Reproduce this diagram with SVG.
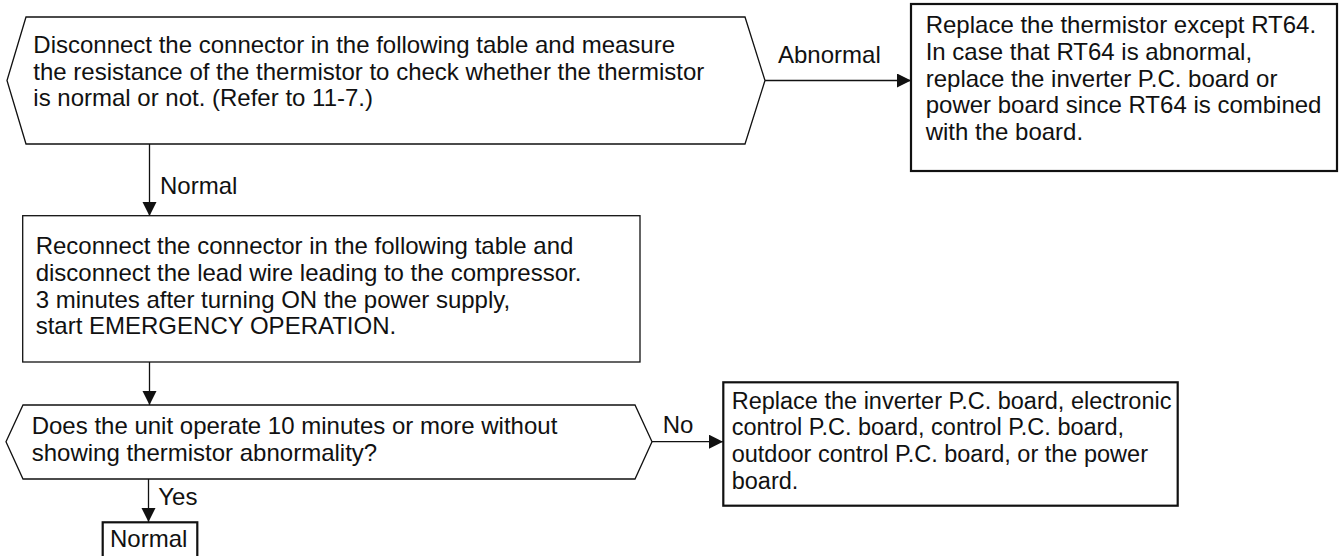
<svg xmlns="http://www.w3.org/2000/svg" width="1343" height="556" viewBox="0 0 1343 556">
<style>
text{font-family:"Liberation Sans",Arial,sans-serif;font-size:24px;fill:#111}
.thin{fill:#fff;stroke:#111;stroke-width:1.3}
.thick{fill:#fff;stroke:#111;stroke-width:2.2}
.edge{fill:none;stroke:#111;stroke-width:1.3}
#replace-board text{font-size:23.5px}
</style>
<defs>
<marker id="ah" markerUnits="userSpaceOnUse" markerWidth="15" markerHeight="15" refX="14" refY="7" orient="auto">
<path d="M0,0 L14,7 L0,14 z" fill="#111"/>
</marker>
</defs>
<g id="connectors">
<line class="edge" x1="149.5" y1="144" x2="149.5" y2="216" marker-end="url(#ah)"/>
<line class="edge" x1="765" y1="80.5" x2="911" y2="80.5" marker-end="url(#ah)"/>
<line class="edge" x1="149.5" y1="362" x2="149.5" y2="405" marker-end="url(#ah)"/>
<line class="edge" x1="652" y1="441.7" x2="723" y2="441.7" marker-end="url(#ah)"/>
<line class="edge" x1="148.5" y1="479" x2="148.5" y2="522" marker-end="url(#ah)"/>
<text x="160" y="194">Normal</text>
<text x="778" y="63.3">Abnormal</text>
<text x="662.7" y="433.3">No</text>
<text x="158.3" y="505">Yes</text>
</g>
<g id="check">
<polygon class="thin" points="26,17 745,17 765,80.5 745,144 26,144 7,80.5"/>
<text x="33.3" y="53">Disconnect the connector in the following table and measure</text>
<text x="33.3" y="79.5">the resistance of the thermistor to check whether the thermistor</text>
<text x="33.3" y="106">is normal or not. (Refer to 11-7.)</text>
</g>
<g id="replace-thermistor">
<rect class="thick" x="911" y="4" width="426" height="167"/>
<text x="925.7" y="33.3">Replace the thermistor except RT64.</text>
<text x="925.7" y="60">In case that RT64 is abnormal,</text>
<text x="925.7" y="86.5">replace the inverter P.C. board or</text>
<text x="925.7" y="113.3">power board since RT64 is combined</text>
<text x="925.7" y="140">with the board.</text>
</g>
<g id="reconnect">
<rect class="thin" x="22.7" y="215.7" width="617.3" height="146.3"/>
<text x="35.7" y="254.3">Reconnect the connector in the following table and</text>
<text x="35.7" y="281">disconnect the lead wire leading to the compressor.</text>
<text x="35.7" y="307.7">3 minutes after turning ON the power supply,</text>
<text x="35.7" y="334.3">start EMERGENCY OPERATION.</text>
</g>
<g id="operate-check">
<polygon class="thin" points="23,405 635,405 652,441.7 635,479 23,479 6,441.7"/>
<text x="31.7" y="434.3">Does the unit operate 10 minutes or more without</text>
<text x="31.7" y="461">showing thermistor abnormality?</text>
</g>
<g id="replace-board">
<rect class="thick" x="723.3" y="382.3" width="454.4" height="123.4"/>
<text x="731.7" y="408.5">Replace the inverter P.C. board, electronic</text>
<text x="731.7" y="435">control P.C. board, control P.C. board,</text>
<text x="731.7" y="462">outdoor control P.C. board, or the power</text>
<text x="731.7" y="489">board.</text>
</g>
<g id="normal">
<rect class="thick" x="102.7" y="522.3" width="94.6" height="40"/>
<text x="110" y="546.7">Normal</text>
</g>
</svg>
